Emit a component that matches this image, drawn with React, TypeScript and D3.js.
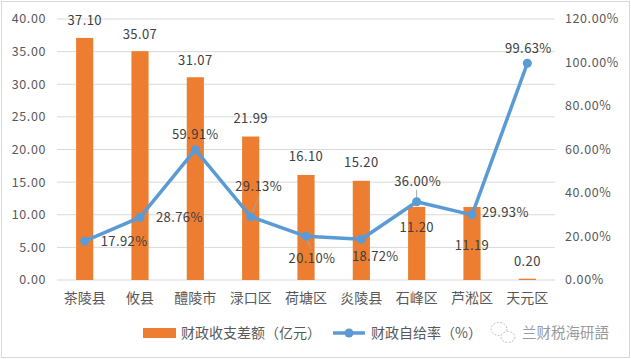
import React from "react";
import * as d3 from "d3";

const categories = ["茶陵县", "攸县", "醴陵市", "渌口区", "荷塘区", "炎陵县", "石峰区", "芦淞区", "天元区"];
const gapValues = [37.1, 35.07, 31.07, 21.99, 16.1, 15.2, 11.2, 11.19, 0.2];
const rateValues = [17.92, 28.76, 59.91, 29.13, 20.1, 18.72, 36.0, 29.93, 99.63];
const leftTicks = [0, 5, 10, 15, 20, 25, 30, 35, 40];
const rightTicks = [0, 20, 40, 60, 80, 100, 120];
const barName = "财政收支差额（亿元）";
const lineName = "财政自给率（%）";
const watermark = "兰财税海研語";

// label placement styles (offsets relative to mark)
const barLabelDy = [-17, -17, -17, -18, -18, -18, 21, 38, -17];
const rateLabelPos: [number, number, string][] = [
  [16, 0, "start"],
  [16, 0, "start"],
  [0, -15, "middle"],
  [8, -30, "middle"],
  [6, 22, "middle"],
  [14, 17, "middle"],
  [1, -20, "middle"],
  [10, -2, "start"],
  [1, -15, "middle"],
];

const W = 631;
const H = 359;
const left = 57;
const right = 555;
const top = 19;
const bottom = 280;
const FONT = "'Noto Sans CJK SC', 'Noto Sans', sans-serif";

export default function App() {
  const x = d3.scaleBand<string>().domain(categories).range([left, right]).paddingInner(0.69).paddingOuter(0.345);
  const yL = d3.scaleLinear().domain([0, 40]).range([bottom, top]);
  const yR = d3.scaleLinear().domain([0, 120]).range([bottom, top]);
  const cx = (c: string) => (x(c) ?? 0) + x.bandwidth() / 2;
  const linePts = categories.map((c, i) => [cx(c), yR(rateValues[i])] as [number, number]);
  const line = d3.line()(linePts) ?? "";

  return (
    <svg width={W} height={H} style={{ position: "absolute", left: 0, top: 0, background: "#fff" }} fontFamily={FONT}>
      <rect x={1.5} y={1.5} width={W - 3} height={H - 3} fill="#fff" stroke="#D9D9D9" strokeWidth={1} />
      {leftTicks.map((t) => (
        <g key={"g" + t}>
          <line x1={left} x2={right} y1={yL(t)} y2={yL(t)} stroke="#D9D9D9" strokeWidth={1} />
          <text x={46} y={yL(t)} dy="0.35em" textAnchor="end" fontSize={12.5} fill="#595959" letterSpacing={0.6}>
            {t.toFixed(2)}
          </text>
        </g>
      ))}
      {rightTicks.map((t) => (
        <text key={"r" + t} x={565} y={yR(t)} dy="0.35em" textAnchor="start" fontSize={12.5} fill="#595959" letterSpacing={0.6}>
          {t.toFixed(2) + "%"}
        </text>
      ))}
      {categories.map((c, i) => (
        <rect key={"b" + c} x={x(c)} y={yL(gapValues[i])} width={x.bandwidth()} height={bottom - yL(gapValues[i])} fill="#ED7D31" />
      ))}
      {categories.map((c) => (
        <text key={"c" + c} x={cx(c)} y={298} dy="0.35em" textAnchor="middle" fontSize={14} fill="#595959">
          {c}
        </text>
      ))}
      {categories.map((c, i) => (
        <text key={"bl" + c} x={cx(c)} y={yL(gapValues[i]) + barLabelDy[i]} dy="0.35em" textAnchor="middle" fontSize={13} fill="#404040" letterSpacing={0.4}>
          {gapValues[i].toFixed(2)}
        </text>
      ))}
      {/* leader lines */}
      <line x1={linePts[3][0] + 8} y1={linePts[3][1] - 20} x2={linePts[3][0]} y2={linePts[3][1]} stroke="#A6A6A6" strokeWidth={1} />
      <line x1={linePts[4][0]} y1={linePts[4][1]} x2={linePts[4][0] + 5} y2={linePts[4][1] + 12} stroke="#A6A6A6" strokeWidth={1} />
      <line x1={linePts[6][0]} y1={linePts[6][1] - 12} x2={linePts[6][0]} y2={linePts[6][1]} stroke="#A6A6A6" strokeWidth={1} />
      <path d={line} fill="none" stroke="#5B9BD5" strokeWidth={3.5} strokeLinejoin="round" />
      {linePts.map((p, i) => (
        <circle key={"p" + i} cx={p[0]} cy={p[1]} r={4.5} fill="#5B9BD5" />
      ))}
      {linePts.map((p, i) => (
        <text key={"rl" + i} x={p[0] + rateLabelPos[i][0]} y={p[1] + rateLabelPos[i][1]} dy="0.35em" textAnchor={rateLabelPos[i][2]} fontSize={13} fill="#404040" letterSpacing={0.4}>
          {rateValues[i].toFixed(2) + "%"}
        </text>
      ))}
      {/* legend */}
      <rect x={143} y={328} width={33} height={10} fill="#ED7D31" />
      <text x={181} y={333} dy="0.35em" fontSize={14} fill="#595959">{barName}</text>
      <line x1={333} x2={365} y1={333} y2={333} stroke="#5B9BD5" strokeWidth={3.5} />
      <circle cx={349} cy={333} r={4.5} fill="#5B9BD5" />
      <text x={371} y={333} dy="0.35em" fontSize={14} fill="#595959">{lineName}</text>
      {/* watermark */}
      <g fill="none" stroke="#BFBFBF" strokeWidth={1} strokeDasharray="2 1.5">
        <ellipse cx={499} cy={329} rx={8} ry={6.5} />
        <ellipse cx={508} cy={337} rx={7} ry={5.5} fill="#fff" />
      </g>
      <text x={522} y={333} dy="0.35em" fontSize={14.5} fill="#9A9A9A">{watermark}</text>
    </svg>
  );
}
